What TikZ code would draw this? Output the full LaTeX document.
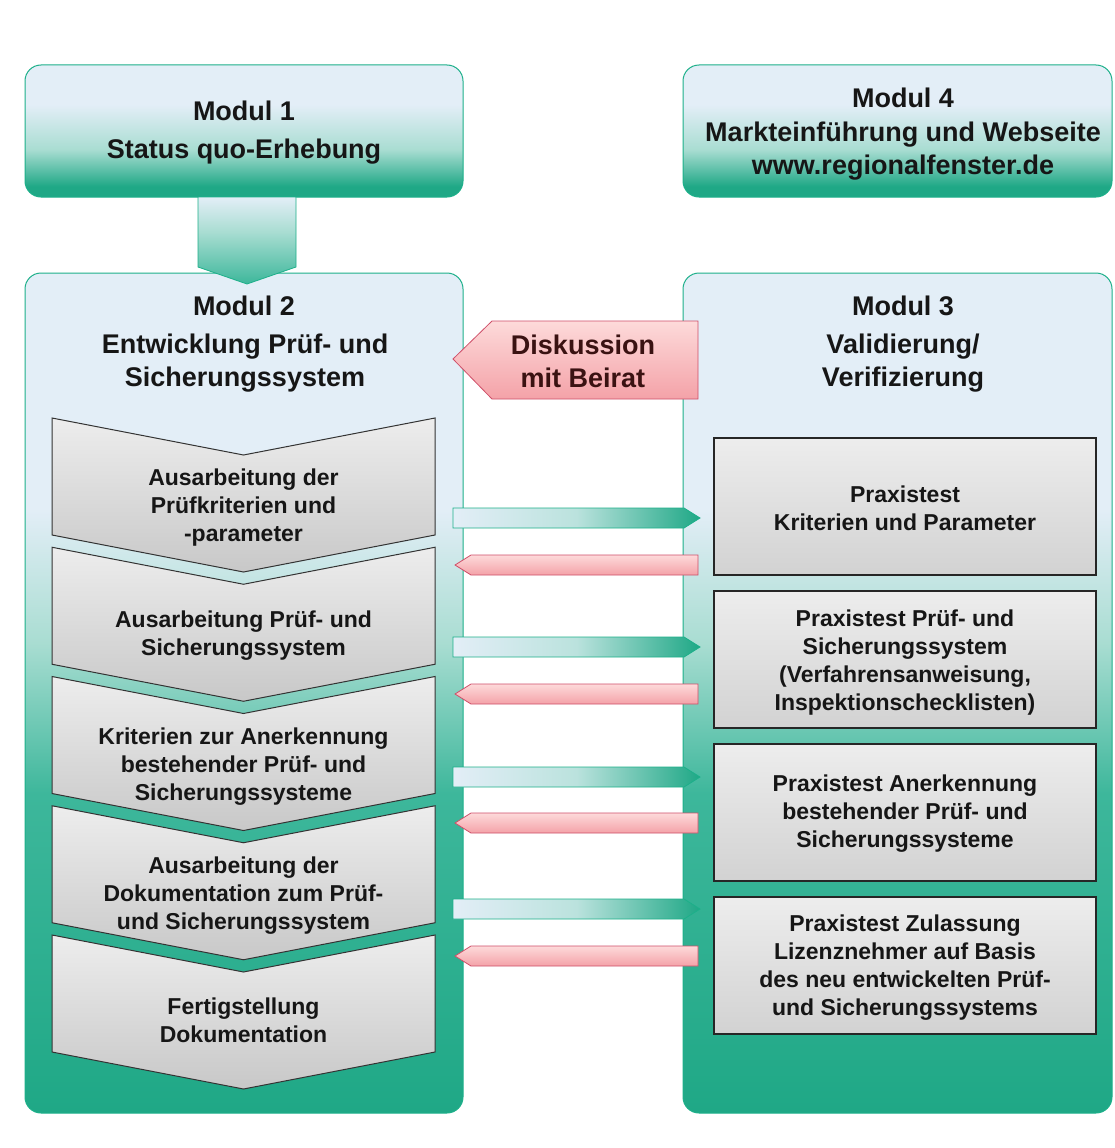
\documentclass[tikz,border=0pt]{standalone}
\usepackage{fontspec}
\setmainfont{Liberation Sans}
\definecolor{tealD}{HTML}{1FA886}
\definecolor{tealM}{HTML}{3DB79B}
\definecolor{tealL}{HTML}{A9DDD2}
\definecolor{lightB}{HTML}{E3EEF7}
\definecolor{edgeT}{HTML}{1DB08A}
\definecolor{grayT}{HTML}{EDEDED}
\definecolor{grayB}{HTML}{C8C8C8}
\definecolor{grayC}{HTML}{D2D2D2}
\definecolor{pinkT}{HTML}{FDDADA}
\definecolor{pinkB}{HTML}{F4A2A8}
\definecolor{pinkE}{HTML}{CF4F69}
\definecolor{txt}{HTML}{161616}
\definecolor{txtR}{HTML}{3A1212}
\pgfdeclareverticalshading{hdrshade}{100bp}{color(0bp)=(tealD); color(29bp)=(tealD); color(43bp)=(tealL); color(60bp)=(lightB); color(100bp)=(lightB)}
\pgfdeclareverticalshading{colshade}{100bp}{color(0bp)=(tealD); color(25bp)=(tealD); color(44bp)=(tealM); color(53bp)=(tealL); color(61bp)=(lightB); color(100bp)=(lightB)}
\pgfdeclareverticalshading{conshade}{100bp}{color(0bp)=(tealM); color(25bp)=(tealM); color(55bp)=(tealL); color(75bp)=(lightB); color(100bp)=(lightB)}
\tikzset{
  modbox/.style={draw=edgeT, line width=1pt, rounded corners=16pt},
  ttl/.style={font=\bfseries\fontsize{27}{33}\selectfont, text=txt, align=center, inner sep=0pt},
  body/.style={font=\bfseries\fontsize{23}{28}\selectfont, text=txt, align=center, inner sep=0pt},
  chev/.style={draw=black!80, line width=1pt, top color=grayT, bottom color=grayB},
  pbox/.style={draw=black!85, line width=1.2pt, top color=grayT, bottom color=grayC},
  garrow/.style={draw=edgeT, line width=0.8pt, left color=lightB, right color=tealD, middle color=tealL!70!lightB},
  parrow/.style={draw=pinkE, line width=0.8pt, top color=pinkT, bottom color=pinkB},
}
\begin{document}
\begin{tikzpicture}[x=1pt,y=-1pt]
\useasboundingbox (0,0) rectangle (1114,1148);
\fill[white] (0,0) rectangle (1114,1148);
% header modules
\shade[modbox, shading=hdrshade] (25,65) rectangle (463,197);
\shade[modbox, shading=hdrshade] (683,65) rectangle (1112,197);
% column modules
\shade[modbox, shading=colshade] (25,273) rectangle (463,1113);
\shade[modbox, shading=colshade] (683,273) rectangle (1112,1113);
% connector Modul 1 -> Modul 2
\shade[draw=edgeT, line width=0.8pt, shading=conshade] (198,197) -- (296,197) -- (296,267) -- (247,284) -- (198,267) -- cycle;
% texts header
\node[ttl] (m1t) at (244,111) {Modul 1};
\node[ttl] (m1s) at (244,152) {Status quo-Erhebung};
\node[ttl] (m4t) at (903,98) {Modul 4};
\node[ttl] (m4s) at (903,151) {Markteinführung und Webseite\\www.regionalfenster.de};
\node[ttl] (m2t) at (244,306) {Modul 2};
\node[ttl] (m2s) at (245,363) {Entwicklung Prüf- und\\Sicherungssystem};
\node[ttl] (m3t) at (903,306) {Modul 3};
\node[ttl] (m3s) at (903,363) {Validierung/\\Verifizierung};
% Diskussion arrow
\path[parrow] (453,359) -- (492,321) -- (698,321) -- (698,399) -- (492,399) -- cycle;
\node[ttl, text=txtR] (disk) at (583,361) {Diskussion\\mit Beirat};
% chevrons
\foreach \i/\yy in {1/418,2/547.25,3/676.5,4/805.75,5/935}{
  \path[chev] (52,\yy) -- (243.5,\yy+37) -- (435,\yy) -- (435,\yy+117) -- (243.5,\yy+154) -- (52,\yy+117) -- cycle;
}
\node[body] (c1) at (243.5,508) {Ausarbeitung der\\Prüfkriterien und\\-parameter};
\node[body] (c2) at (243.5,636) {Ausarbeitung Prüf- und\\Sicherungssystem};
\node[body] (c3) at (243.5,767) {Kriterien zur Anerkennung\\bestehender Prüf- und\\Sicherungssysteme};
\node[body] (c4) at (243.5,896) {Ausarbeitung der\\Dokumentation zum Prüf-\\und Sicherungssystem};
\node[body] (c5) at (243.5,1020) {Fertigstellung\\Dokumentation};
% right boxes
\foreach \yy in {438,591,744,897}{
  \path[pbox] (714,\yy) rectangle (1096,\yy+137);
}
\node[body] (p1) at (905,508) {Praxistest\\Kriterien und Parameter};
\node[body] (p2) at (905,663) {Praxistest Prüf- und\\Sicherungssystem\\(Verfahrensanweisung,\\Inspektionschecklisten)};
\node[body] (p3) at (905,814) {Praxistest Anerkennung\\bestehender Prüf- und\\Sicherungssysteme};
\node[body] (p4) at (905,968) {Praxistest Zulassung\\Lizenznehmer auf Basis\\des neu entwickelten Prüf-\\und Sicherungssystems};
% arrows between columns
\foreach \g/\p in {518/565,647/694,777/823,909/956}{
  \path[garrow] (453,\g-10) -- (684,\g-10) -- (700,\g) -- (684,\g+10) -- (453,\g+10) -- cycle;
  \path[parrow] (455,\p) -- (471,\p-10) -- (698,\p-10) -- (698,\p+10) -- (471,\p+10) -- cycle;
}
\end{tikzpicture}
\end{document}
